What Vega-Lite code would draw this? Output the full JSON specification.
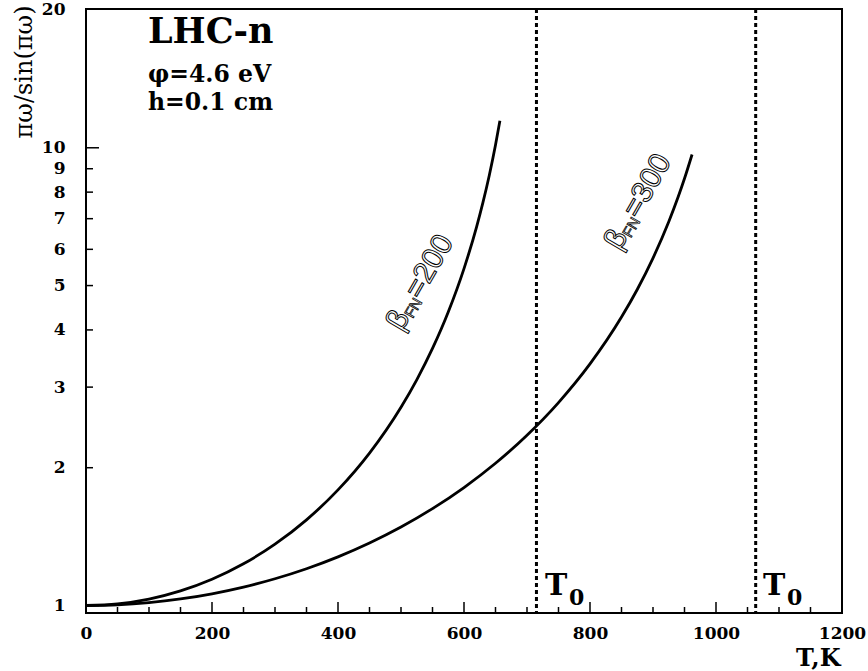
{
  "$schema": "https://vega.github.io/schema/vega-lite/v6.json",
  "width": 756,
  "height": 604,
  "autosize": "none",
  "padding": {"left": 86, "top": 9, "right": 26, "bottom": 58},
  "background": "white",
  "config": {
    "view": {"stroke": "black", "strokeWidth": 2},
    "axis": {
      "domain": false,
      "grid": false,
      "ticks": false,
      "labelColor": "black",
      "labelFont": "DejaVu Serif",
      "labelFontWeight": "bold",
      "labelFontSize": 17,
      "titleColor": "black"
    }
  },
  "datasets": {
    "curves": [
      {"beta": "200", "T": 0, "v": 1},
      {"beta": "200", "T": 50, "v": 1.0081},
      {"beta": "200", "T": 100, "v": 1.0329},
      {"beta": "200", "T": 150, "v": 1.0763},
      {"beta": "200", "T": 200, "v": 1.1413},
      {"beta": "200", "T": 250, "v": 1.2335},
      {"beta": "200", "T": 300, "v": 1.3614},
      {"beta": "200", "T": 350, "v": 1.5387},
      {"beta": "200", "T": 400, "v": 1.7887},
      {"beta": "200", "T": 450, "v": 2.1526},
      {"beta": "200", "T": 500, "v": 2.7112},
      {"beta": "200", "T": 525, "v": 3.1123},
      {"beta": "200", "T": 550, "v": 3.6443},
      {"beta": "200", "T": 575, "v": 4.3782},
      {"beta": "200", "T": 600, "v": 5.4462},
      {"beta": "200", "T": 620, "v": 6.7197},
      {"beta": "200", "T": 630, "v": 7.587},
      {"beta": "200", "T": 640, "v": 8.6896},
      {"beta": "200", "T": 650, "v": 10.1377},
      {"beta": "200", "T": 657, "v": 11.4512},
      {"beta": "300", "T": 0, "v": 1},
      {"beta": "300", "T": 50, "v": 1.0036},
      {"beta": "300", "T": 100, "v": 1.0147},
      {"beta": "300", "T": 150, "v": 1.0335},
      {"beta": "300", "T": 200, "v": 1.0607},
      {"beta": "300", "T": 250, "v": 1.0971},
      {"beta": "300", "T": 300, "v": 1.1441},
      {"beta": "300", "T": 350, "v": 1.2034},
      {"beta": "300", "T": 400, "v": 1.2774},
      {"beta": "300", "T": 450, "v": 1.3695},
      {"beta": "300", "T": 500, "v": 1.4841},
      {"beta": "300", "T": 550, "v": 1.6279},
      {"beta": "300", "T": 600, "v": 1.8102},
      {"beta": "300", "T": 650, "v": 2.0452},
      {"beta": "300", "T": 700, "v": 2.3548},
      {"beta": "300", "T": 750, "v": 2.7754},
      {"beta": "300", "T": 800, "v": 3.3712},
      {"beta": "300", "T": 850, "v": 4.2669},
      {"beta": "300", "T": 875, "v": 4.9026},
      {"beta": "300", "T": 900, "v": 5.741},
      {"beta": "300", "T": 925, "v": 6.8923},
      {"beta": "300", "T": 940, "v": 7.8133},
      {"beta": "300", "T": 950, "v": 8.5654},
      {"beta": "300", "T": 962, "v": 9.6678}
    ],
    "t0": [
      {"T": 715},
      {"T": 1063}
    ],
    "t0labels": [
      {"T": 728.6, "v": 1.054},
      {"T": 1074.6, "v": 1.054}
    ],
    "blabels": [
      {"T": 530, "v": 5.07, "num": "=200"},
      {"T": 876, "v": 7.61, "num": "=300"}
    ],
    "title": [
      {"T": 98.4, "v": 16.94, "text": "LHC-n"}
    ],
    "params": [
      {"T": 98.4, "v": 13.92, "text": "φ=4.6 eV"},
      {"T": 98.4, "v": 12.09, "text": "h=0.1 cm"}
    ],
    "xmajor": [
      {"T": 200, "v": 0.963}, {"T": 400, "v": 0.963}, {"T": 600, "v": 0.963},
      {"T": 800, "v": 0.963}, {"T": 1000, "v": 0.963}
    ],
    "xminor": [
      {"T": 50, "v": 0.963}, {"T": 100, "v": 0.963}, {"T": 150, "v": 0.963},
      {"T": 250, "v": 0.963}, {"T": 300, "v": 0.963}, {"T": 350, "v": 0.963},
      {"T": 450, "v": 0.963}, {"T": 500, "v": 0.963}, {"T": 550, "v": 0.963},
      {"T": 650, "v": 0.963}, {"T": 700, "v": 0.963}, {"T": 750, "v": 0.963},
      {"T": 850, "v": 0.963}, {"T": 900, "v": 0.963}, {"T": 950, "v": 0.963},
      {"T": 1050, "v": 0.963}, {"T": 1100, "v": 0.963}, {"T": 1150, "v": 0.963}
    ],
    "ymajor": [
      {"T": 0, "v": 1}, {"T": 0, "v": 10}
    ],
    "yminor": [
      {"T": 0, "v": 2}, {"T": 0, "v": 3}, {"T": 0, "v": 4}, {"T": 0, "v": 5},
      {"T": 0, "v": 6}, {"T": 0, "v": 7}, {"T": 0, "v": 8}, {"T": 0, "v": 9}
    ]
  },
  "layer": [
    {
      "data": {"name": "curves"},
      "mark": {"type": "line", "color": "black", "strokeWidth": 2.8, "interpolate": "monotone"},
      "encoding": {
        "x": {
          "field": "T", "type": "quantitative",
          "scale": {"domain": [0, 1200], "nice": false, "zero": false},
          "axis": {
            "orient": "bottom",
            "values": [0, 200, 400, 600, 800, 1000, 1200],
            "format": "d",
            "tickSize": 0,
            "labelPadding": 12,
            "labelBaseline": "top",
            "labelFlush": false,
            "title": "T,K",
            "titleFont": "DejaVu Serif",
            "titleFontWeight": "bold",
            "titleFontSize": 24,
            "titleAnchor": "end",
            "titleAlign": "right",
            "titleBaseline": "alphabetic",
            "titleX": 754,
            "titleY": 52
          }
        },
        "y": {
          "field": "v", "type": "quantitative",
          "scale": {"type": "log", "domain": [0.963, 20.1], "nice": false},
          "axis": {
            "orient": "left",
            "values": [1, 2, 3, 4, 5, 6, 7, 8, 9, 10, 20],
            "format": "d",
            "tickSize": 0,
            "labelPadding": 21,
            "labelAlign": "right",
            "labelBaseline": "middle",
            "labelFlush": false,
            "title": "πω/sin(πω)",
            "titleFont": "DejaVu Serif",
            "titleFontWeight": "normal",
            "titleFontSize": 24,
            "titleAnchor": "end",
            "titleAlign": "right",
            "titleBaseline": "bottom",
            "titleAngle": -90,
            "titleX": -50,
            "titleY": -4
          }
        },
        "detail": {"field": "beta"}
      }
    },
    {
      "data": {"name": "t0"},
      "mark": {"type": "rule", "color": "black", "strokeWidth": 3, "strokeDash": [4, 3]},
      "encoding": {
        "x": {"field": "T", "type": "quantitative", "scale": {"domain": [0, 1200], "nice": false, "zero": false}}
      }
    },
    {
      "data": {"name": "xmajor"},
      "mark": {"type": "tick", "orient": "vertical", "color": "black", "size": 11, "thickness": 1.5, "yOffset": -5.5, "opacity": 1},
      "encoding": {
        "x": {"field": "T", "type": "quantitative", "scale": {"domain": [0, 1200], "nice": false, "zero": false}},
        "y": {"field": "v", "type": "quantitative", "scale": {"type": "log", "domain": [0.963, 20.1], "nice": false}}
      }
    },
    {
      "data": {"name": "xminor"},
      "mark": {"type": "tick", "orient": "vertical", "color": "black", "size": 6, "thickness": 1.5, "yOffset": -3, "opacity": 1},
      "encoding": {
        "x": {"field": "T", "type": "quantitative", "scale": {"domain": [0, 1200], "nice": false, "zero": false}},
        "y": {"field": "v", "type": "quantitative", "scale": {"type": "log", "domain": [0.963, 20.1], "nice": false}}
      }
    },
    {
      "data": {"name": "ymajor"},
      "mark": {"type": "tick", "orient": "horizontal", "color": "black", "size": 13, "thickness": 1.5, "xOffset": 6.5, "opacity": 1},
      "encoding": {
        "x": {"field": "T", "type": "quantitative", "scale": {"domain": [0, 1200], "nice": false, "zero": false}},
        "y": {"field": "v", "type": "quantitative", "scale": {"type": "log", "domain": [0.963, 20.1], "nice": false}}
      }
    },
    {
      "data": {"name": "yminor"},
      "mark": {"type": "tick", "orient": "horizontal", "color": "black", "size": 7, "thickness": 1.5, "xOffset": 3.5, "opacity": 1},
      "encoding": {
        "x": {"field": "T", "type": "quantitative", "scale": {"domain": [0, 1200], "nice": false, "zero": false}},
        "y": {"field": "v", "type": "quantitative", "scale": {"type": "log", "domain": [0.963, 20.1], "nice": false}}
      }
    },
    {
      "data": {"name": "t0labels"},
      "mark": {"type": "text", "text": "T", "font": "DejaVu Serif", "fontWeight": "bold", "fontSize": 30, "align": "left", "baseline": "alphabetic", "color": "black"},
      "encoding": {
        "x": {"field": "T", "type": "quantitative", "scale": {"domain": [0, 1200], "nice": false, "zero": false}},
        "y": {"field": "v", "type": "quantitative", "scale": {"type": "log", "domain": [0.963, 20.1], "nice": false}}
      }
    },
    {
      "data": {"name": "t0labels"},
      "mark": {"type": "text", "text": "0", "font": "DejaVu Serif", "fontWeight": "bold", "fontSize": 22, "align": "left", "baseline": "alphabetic", "dx": 24, "dy": 10, "color": "black"},
      "encoding": {
        "x": {"field": "T", "type": "quantitative", "scale": {"domain": [0, 1200], "nice": false, "zero": false}},
        "y": {"field": "v", "type": "quantitative", "scale": {"type": "log", "domain": [0.963, 20.1], "nice": false}}
      }
    },
    {
      "data": {"name": "blabels"},
      "mark": {"type": "text", "text": "β", "font": "Liberation Sans", "fontSize": 30, "align": "left", "baseline": "middle", "angle": -60, "dx": -52, "fill": "white", "stroke": "black", "strokeWidth": 1},
      "encoding": {
        "x": {"field": "T", "type": "quantitative", "scale": {"domain": [0, 1200], "nice": false, "zero": false}},
        "y": {"field": "v", "type": "quantitative", "scale": {"type": "log", "domain": [0.963, 20.1], "nice": false}}
      }
    },
    {
      "data": {"name": "blabels"},
      "mark": {"type": "text", "text": "FN", "font": "Liberation Sans", "fontSize": 15, "align": "left", "baseline": "middle", "angle": -60, "dx": -35, "dy": 7, "fill": "white", "stroke": "black", "strokeWidth": 0.8},
      "encoding": {
        "x": {"field": "T", "type": "quantitative", "scale": {"domain": [0, 1200], "nice": false, "zero": false}},
        "y": {"field": "v", "type": "quantitative", "scale": {"type": "log", "domain": [0.963, 20.1], "nice": false}}
      }
    },
    {
      "data": {"name": "blabels"},
      "mark": {"type": "text", "font": "Liberation Sans", "fontSize": 30, "align": "left", "baseline": "middle", "angle": -60, "dx": -15, "fill": "white", "stroke": "black", "strokeWidth": 1},
      "encoding": {
        "text": {"field": "num"},
        "x": {"field": "T", "type": "quantitative", "scale": {"domain": [0, 1200], "nice": false, "zero": false}},
        "y": {"field": "v", "type": "quantitative", "scale": {"type": "log", "domain": [0.963, 20.1], "nice": false}}
      }
    },
    {
      "data": {"name": "title"},
      "mark": {"type": "text", "font": "DejaVu Serif", "fontWeight": "bold", "fontSize": 35, "align": "left", "baseline": "alphabetic", "color": "black"},
      "encoding": {
        "text": {"field": "text"},
        "x": {"field": "T", "type": "quantitative", "scale": {"domain": [0, 1200], "nice": false, "zero": false}},
        "y": {"field": "v", "type": "quantitative", "scale": {"type": "log", "domain": [0.963, 20.1], "nice": false}}
      }
    },
    {
      "data": {"name": "params"},
      "mark": {"type": "text", "font": "DejaVu Serif", "fontWeight": "bold", "fontSize": 23.5, "align": "left", "baseline": "alphabetic", "color": "black"},
      "encoding": {
        "text": {"field": "text"},
        "x": {"field": "T", "type": "quantitative", "scale": {"domain": [0, 1200], "nice": false, "zero": false}},
        "y": {"field": "v", "type": "quantitative", "scale": {"type": "log", "domain": [0.963, 20.1], "nice": false}}
      }
    }
  ]
}
